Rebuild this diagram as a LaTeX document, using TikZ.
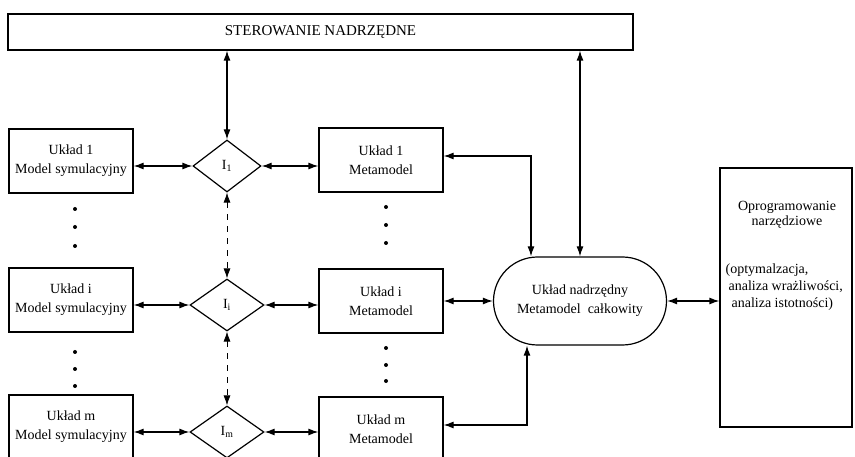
\documentclass[tikz,border=0pt]{standalone}
\usepackage{fontspec}
\setmainfont{Liberation Serif}
\usetikzlibrary{arrows.meta,shapes.geometric}

\tikzset{
  blok/.style={draw,line width=1.2pt,minimum width=124pt,minimum height=64pt,align=center,inner sep=0pt},
  romb/.style={draw,diamond,line width=1.2pt,minimum width=74pt,minimum height=52pt,inner sep=0pt},
  kropka/.style={circle,fill,inner sep=0pt,minimum size=4pt},
  >={Latex[length=10pt,width=7pt]}
}

\begin{document}
\begin{tikzpicture}[x=1pt,y=-1pt,line width=1.2pt,font=\fontsize{14}{19}\selectfont]
\useasboundingbox (0,0) rectangle (855,457);
\clip (0,0) rectangle (855,457);

% Draw upper control box
\node[draw,minimum width=625pt,minimum height=36pt,inner sep=0pt,font=\fontsize{15}{18}\selectfont] (ster) at (320.5,32) {STEROWANIE NADRZĘDNE};

% Draw simulation models
\node[blok] (sym1) at (71,161) {Układ 1\\Model symulacyjny};
\node[blok] (symi) at (71,300) {Układ i\\Model symulacyjny};
\node[blok] (symm) at (71,427) {Układ m\\Model symulacyjny};

% Draw interfaces
\node[romb,minimum width=68pt] (I1) at (227,166) {I\textsubscript{1}};
\node[romb] (Ii) at (227,305) {I\textsubscript{i}};
\node[romb] (Im) at (227,432) {I\textsubscript{m}};

% Draw metamodels
\node[blok] (meta1) at (381,160) {Układ 1\\Metamodel};
\node[blok] (metai) at (381,301) {Układ i\\Metamodel};
\node[blok] (metam) at (381,429) {Układ m\\Metamodel};

% Draw total metamodel
\node[draw,rounded corners=44pt,minimum width=173pt,minimum height=88pt,align=center,inner sep=0pt] (nadrz) at (580,301) {Układ nadrzędny\\Metamodel~ całkowity};

% Draw tools box
\node[draw,minimum width=132pt,minimum height=259pt,inner sep=0pt] (narz) at (786,297.5) {};
\node[align=center,font=\fontsize{14}{15}\selectfont] (oprog) at (787,215) {Oprogramowanie\\narzędziowe};
\node[anchor=west,align=left,inner sep=0pt,font=\fontsize{14}{17}\selectfont] (analiza) at (725,287) {(optymalzacja,\\\hspace{3pt}analiza wrażliwości,\\\hspace{6pt}analiza istotności)};

% Draw dots
\foreach \n/\x/\y in {a1/75/209,a2/75/227,a3/75/246,b1/75/352,b2/75/369,b3/75/386,
                      c1/386/207,c2/386/225,c3/386/243,d1/386/348,d2/386/365,d3/386/381}
  \node[kropka] (kr\n) at (\x,\y) {};

% Draw connections
\draw[<->] (ster.south -| I1.north) -- (I1.north);
\draw[<->] (ster.south -| nadrz.north) -- (nadrz.north);
\draw[<->] (sym1.east |- I1.west) -- (I1.west);
\draw[<->] (symi.east |- Ii.west) -- (Ii.west);
\draw[<->] (symm.east |- Im.west) -- (Im.west);
\draw[<->] (I1.east) -- (meta1.west |- I1.east);
\draw[<->] (Ii.east) -- (metai.west |- Ii.east);
\draw[<->] (Im.east) -- (metam.west |- Im.east);
\draw[<->,line width=0.8pt,dash pattern=on 6pt off 6pt] (I1.south) -- (Ii.north);
\draw[<->,line width=0.8pt,dash pattern=on 6pt off 6pt] (Ii.south) -- (Im.north);
\draw[<->] ([yshift=4pt]meta1.east) -| ([xshift=-49pt]nadrz.north);
\draw[<->] (metai.east) -- (nadrz.west);
\draw[<->] ([yshift=4pt]metam.east) -| ([xshift=-53pt]nadrz.south);
\draw[<->] (nadrz.east) -- (narz.west |- nadrz.east);

\end{tikzpicture}
\end{document}
